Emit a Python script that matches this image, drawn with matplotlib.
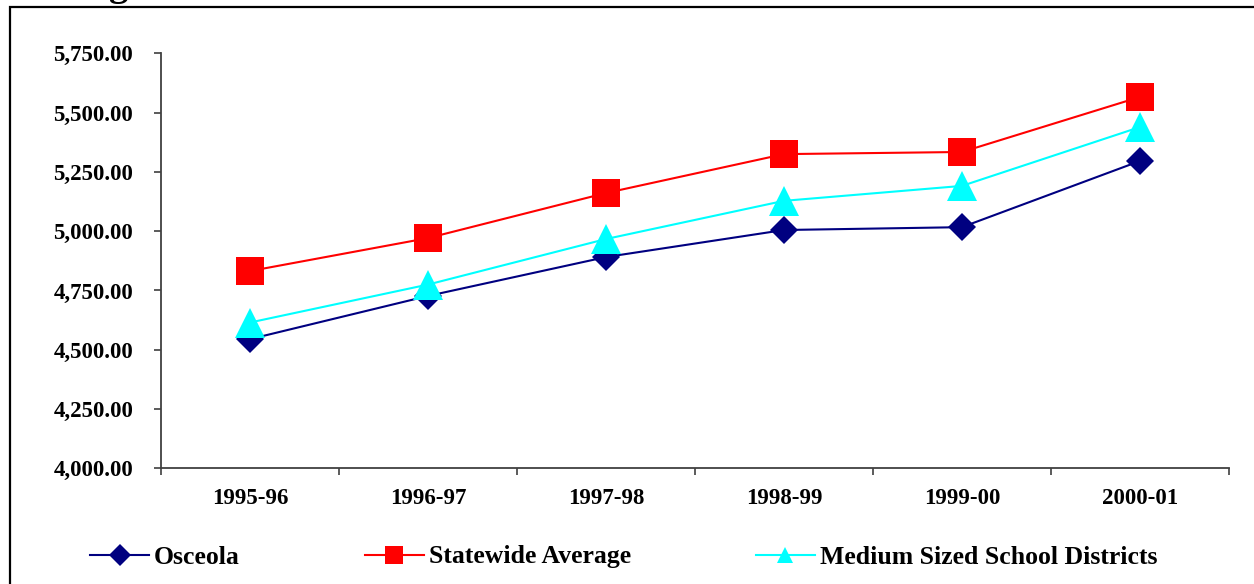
import matplotlib.pyplot as plt
from matplotlib.lines import Line2D
from matplotlib.patches import Rectangle

years = ['1995-96', '1996-97', '1997-98', '1998-99', '1999-00', '2000-01']
osceola = [4545, 4727, 4891, 5005, 5017, 5296]
statewide = [4832, 4971, 5161, 5325, 5334, 5566]
medium = [4615, 4775, 4967, 5128, 5191, 5439]

navy, red, cyan = '#000080', '#ff0000', '#00ffff'
axis_col = '#404040'

plt.rcParams['font.family'] = ['Liberation Serif', 'DejaVu Serif']
plt.rcParams['font.weight'] = 'bold'

fig = plt.figure(figsize=(12.54, 5.84), dpi=100)
ax = fig.add_axes([0.1284, 0.198, 0.980 - 0.1284, 0.9087 - 0.198])

x = range(len(years))
ax.plot(x, osceola, color=navy, lw=1.5, marker='D', ms=14.3, mec=navy, mew=0)
ax.plot(x, statewide, color=red, lw=1.5, marker='s', ms=20.5, mec=red, mew=0)
ax.plot(x, medium, color=cyan, lw=1.5, marker='^', ms=21, mec=cyan, mew=0)

ax.set_xlim(-0.5, len(years) - 0.5)
ax.set_ylim(4000, 5750)
ax.set_yticks(range(4000, 5751, 250))
ax.set_yticklabels(['{:,.2f}'.format(v) for v in range(4000, 5751, 250)])

# boundaries between categories get the tick marks, labels sit in between
ax.set_xticks([i - 0.5 for i in range(len(years) + 1)])
ax.set_xticklabels([])
ax.set_xticks(list(x), minor=True)
ax.set_xticklabels(years, minor=True)
ax.tick_params(axis='x', which='minor', length=0, pad=14, labelsize=16.5)
ax.tick_params(axis='x', which='major', length=5, width=1.2, color=axis_col)
ax.tick_params(axis='y', length=5, width=1.2, color=axis_col, pad=15, labelsize=16.5)

for s in ['top', 'right']:
    ax.spines[s].set_visible(False)
for s in ['left', 'bottom']:
    ax.spines[s].set_color(axis_col)
    ax.spines[s].set_linewidth(1.3)

# outer frame, open to the right and bottom
fig.patches.append(Rectangle((10 / 1254, -0.2), 1.5, (584 - 7) / 584 + 0.2,
                             transform=fig.transFigure, fill=False,
                             edgecolor='black', lw=1.6))
fig.text(0.087, 1.0 + 5 / 584, 'g', fontsize=28, ha='left', va='baseline')

handles = [
    Line2D([], [], color=navy, lw=1.5, marker='D', ms=11, mew=0),
    Line2D([], [], color=red, lw=1.5, marker='s', ms=13, mew=0),
    Line2D([], [], color=cyan, lw=1.5, marker='^', ms=12, mew=0),
]
labels = ['Osceola', 'Statewide Average', 'Medium Sized School Districts']
fig.legend(handles, labels, ncol=3, loc='center left',
           bbox_to_anchor=(90 / 1254, 27 / 584), frameon=False,
           borderpad=0, borderaxespad=0, handlelength=2.3, handletextpad=0.2,
           columnspacing=4.85, prop={'size': 18.5, 'weight': 'bold'})

fig.savefig('out.png', dpi=100)
